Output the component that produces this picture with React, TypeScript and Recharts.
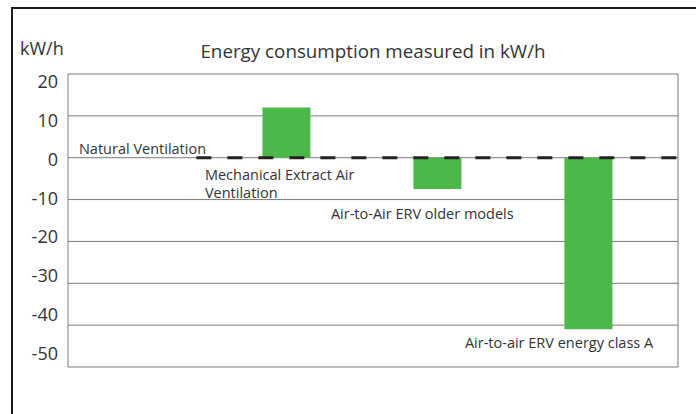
import { BarChart, Bar, XAxis, YAxis, CartesianGrid, ReferenceLine, ReferenceDot } from 'recharts'

const categories = [
  'Natural Ventilation',
  'Mechanical Extract Air Ventilation',
  'Air-to-Air ERV older models',
  'Air-to-air ERV energy class A',
]
const labelLines = [
  ['Natural Ventilation'],
  ['Mechanical Extract Air', 'Ventilation'],
  ['Air-to-Air ERV older models'],
  ['Air-to-air ERV energy class A'],
]
const consumption = [0, 12, -7.5, -41]
const yTicks = [20, 10, 0, -10, -20, -30, -40, -50]

const data = categories.map((name, i) => ({ pos: i, name, value: consumption[i] }))

const FONT = '"Open Sans", "DejaVu Sans", sans-serif'
const TEXT = '#333'
const PLOT_TOP = 74

// where each category label sits: next to the zero line or the end of the bar
const labelPlacement = [
  { dx: -57, dy: -10, ref: 'zero' },
  { dx: -82, dy: 16, ref: 'zero' },
  { dx: -107, dy: 24, ref: 'end' },
  { dx: -124, dy: 13, ref: 'end' },
]

function CategoryLabel({ viewBox, index }: any) {
  const p = labelPlacement[index]
  const cx = viewBox.x + viewBox.width / 2
  const cy = viewBox.y + viewBox.height / 2
  return (
    <text x={cx + p.dx} y={cy + p.dy} fill={TEXT} fontSize={14.5} fontFamily={FONT} dominantBaseline="central">
      {labelLines[index].map((line, i) => (
        <tspan key={i} x={cx + p.dx} dy={i === 0 ? 0 : 18}>
          {line}
        </tspan>
      ))}
    </text>
  )
}

// tick labels in the source drift slightly from the gridlines
function YTick(props: any) {
  const { x, y, payload } = props
  return (
    <text
      x={x - 2}
      y={PLOT_TOP + 7 + (y - PLOT_TOP) * 0.928}
      fill={TEXT}
      fontSize={18}
      fontFamily={FONT}
      textAnchor="end"
      dominantBaseline="central"
    >
      {payload.value}
    </text>
  )
}

export default function App() {
  return (
    <div style={{ position: 'absolute', left: 0, top: 0, width: 696, height: 414, background: '#fff', overflow: 'hidden' }}>
      <div
        style={{
          position: 'absolute',
          left: 11,
          top: 7,
          width: 700,
          height: 420,
          borderLeft: '2px solid #1a1a1a',
          borderTop: '2px solid #1a1a1a',
        }}
      />
      <div style={{ position: 'absolute', left: 20, top: 36, fontFamily: FONT, fontSize: 18, color: TEXT, lineHeight: '24px' }}>
        kW/h
      </div>
      <div
        style={{
          position: 'absolute',
          left: 0,
          width: 746,
          top: 39,
          textAlign: 'center',
          fontFamily: FONT,
          fontSize: 18.8,
          color: TEXT,
          lineHeight: '24px',
        }}
      >
        Energy consumption measured in kW/h
      </div>
      <div style={{ position: 'absolute', left: 0, top: 0 }}>
        <BarChart width={696} height={414} data={data} margin={{ top: PLOT_TOP, right: 18, bottom: 47, left: 0 }}>
          <CartesianGrid
            stroke="#7a7a7a"
            verticalCoordinatesGenerator={({ offset }: any) => [offset.left, offset.left + offset.width]}
          />
          <XAxis dataKey="pos" type="number" domain={[-0.45, 3.59]} hide />
          <YAxis
            width={68}
            domain={[-50, 20]}
            ticks={yTicks}
            interval={0}
            axisLine={false}
            tickLine={false}
            tick={<YTick />}
          />
          <ReferenceLine
            segment={[
              { x: 0.4, y: 0 },
              { x: 3.59, y: 0 },
            ]}
            stroke="#222"
            strokeWidth={3}
            strokeDasharray="15 16"
          />
          <Bar dataKey="value" fill="#4cb84a" barSize={48} isAnimationActive={false} />
          {data.map((d, i) => (
            <ReferenceDot
              key={d.name}
              x={d.pos}
              y={labelPlacement[i].ref === 'zero' ? 0 : d.value}
              r={1}
              fill="none"
              stroke="none"
              label={{ content: (lp: any) => <CategoryLabel viewBox={lp.viewBox} index={i} /> }}
            />
          ))}
        </BarChart>
      </div>
    </div>
  )
}
